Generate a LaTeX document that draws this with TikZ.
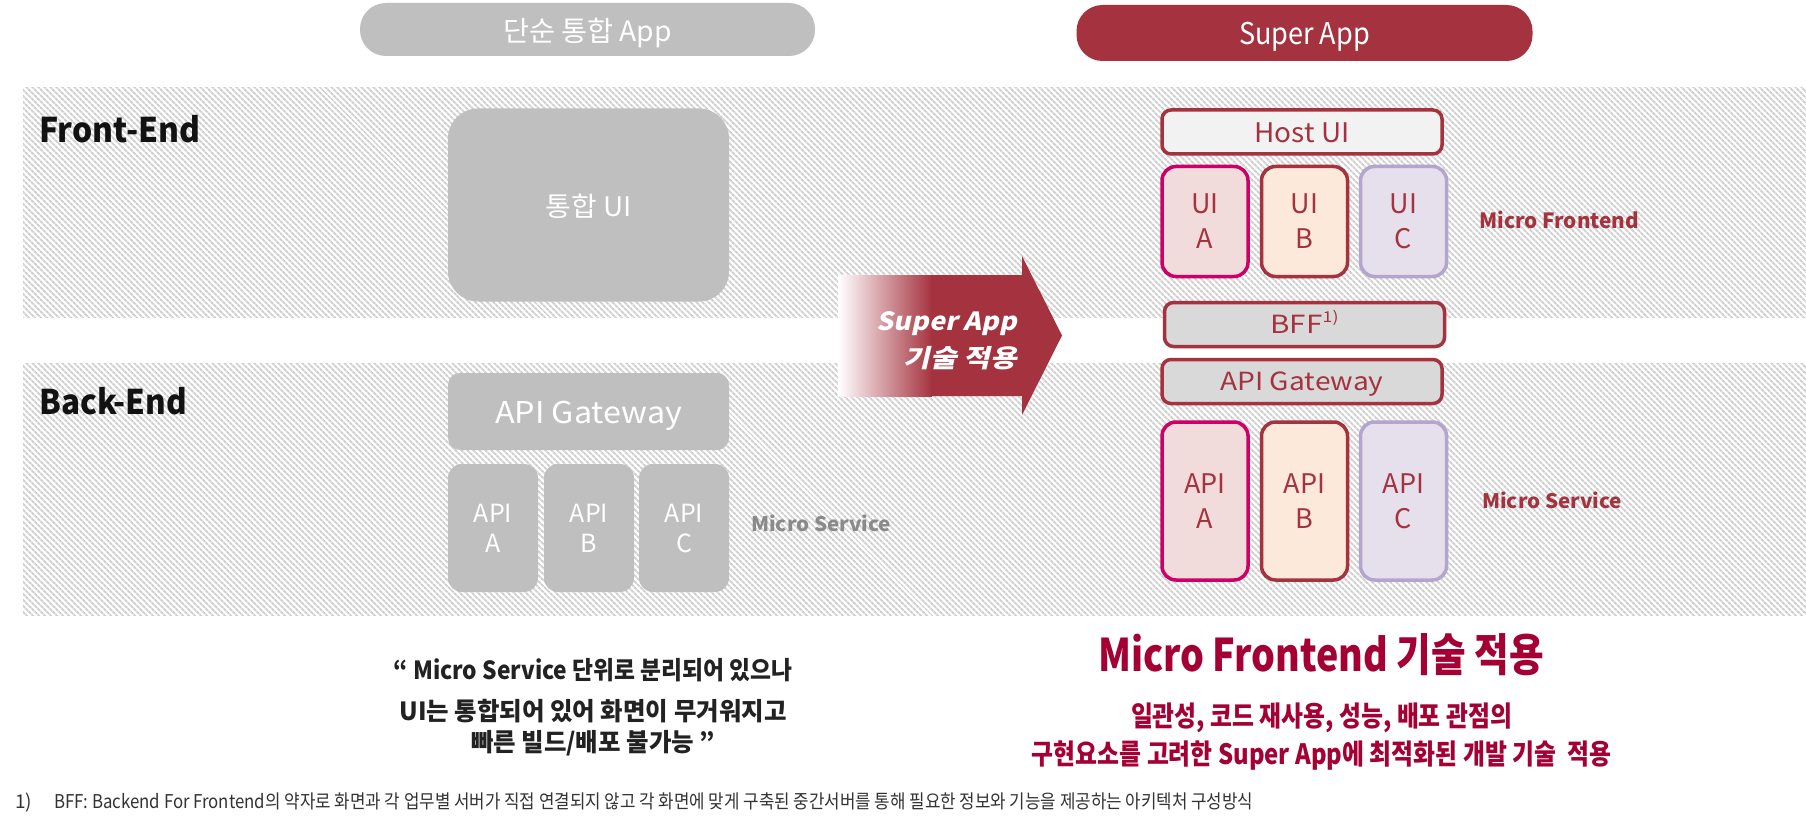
\documentclass[tikz,border=0pt]{standalone}
\usepackage{fontspec}
\setmainfont{Noto Sans CJK KR}
\newfontfamily\slfont[FakeSlant=0.2]{Noto Sans CJK KR}
\usetikzlibrary{patterns.meta}
\definecolor{sred}{HTML}{A5333F}
\definecolor{dred}{HTML}{A50034}
\definecolor{magb}{HTML}{CC0066}
\definecolor{lavb}{HTML}{B4A5CF}
\definecolor{fillA}{HTML}{F2DCDB}
\definecolor{fillB}{HTML}{FDE9D9}
\definecolor{fillC}{HTML}{E6E0EC}
\definecolor{boxgrey}{HTML}{BFBFBF}
\definecolor{lgrey}{HTML}{D9D9D9}
\definecolor{hostfill}{HTML}{F2F2F2}
\definecolor{hatch}{HTML}{CFCFCF}
\definecolor{msgrey}{HTML}{8A8A8A}
\definecolor{qtext}{HTML}{222222}
\definecolor{ftext}{HTML}{333333}
\newcommand\fitw[2]{\resizebox{#1}{\height}{#2}}
\newcommand\fs[2]{\fontsize{#1}{#2}\selectfont}
\begin{document}
\begin{tikzpicture}[x=1pt,y=-1pt,
  band/.style={pattern={Lines[angle=-45,distance=4pt,line width=2pt]},pattern color=hatch},
  greybox/.style={fill=boxgrey,inner sep=0pt,text=white},
  pill/.style={rounded corners=26pt,inner sep=0pt,text=white},
  rbox/.style={line width=3.5pt,inner sep=0pt,text=sred},
  lbl/.style={inner sep=0pt,anchor=base west},
  ctxt/.style={inner sep=0pt,anchor=base}]
\useasboundingbox (0,0) rectangle (1806,821);
\fill[white] (0,0) rectangle (1806,821);
% hatched bands
\fill[band] (23,88) rectangle (1806,317);
\fill[band] (23,363) rectangle (1806,615);
% pills
\node[pill,fill=boxgrey,minimum width=455pt,minimum height=53pt,text height=25pt,text depth=0pt,font=\fs{28}{30}] (pl) at (587.5,29.5) {\fitw{169pt}{단순 통합 App}};
\node[pill,fill=sred,minimum width=456pt,minimum height=56pt,text height=24pt,text depth=0pt,font=\fs{30}{32}] (pr) at (1304.5,33) {\fitw{131pt}{Super App}};
% row labels
\node[lbl,font=\bfseries\fs{34}{36},text=black!93] (fe) at (39,143) {\fitw{161pt}{Front-End}};
\node[lbl,font=\bfseries\fs{34}{36},text=black!93] (be) at (39,414) {\fitw{148pt}{Back-End}};
% left column
\node[greybox,rounded corners=30pt,minimum width=281pt,minimum height=193pt,text height=22pt,text depth=0pt,font=\fs{27}{30}] (tui) at (588.5,205) {\fitw{86pt}{통합 UI}};
\node[greybox,rounded corners=12pt,minimum width=281pt,minimum height=77pt,text height=23pt,text depth=0pt,font=\fs{30}{32}] (lgw) at (588.5,411.5) {\fitw{187pt}{API Gateway}};
\node[greybox,rounded corners=14pt,minimum width=90pt,minimum height=128pt,align=center,font=\fs{25}{30}] (la) at (493,528) {API\\A};
\node[greybox,rounded corners=14pt,minimum width=90pt,minimum height=128pt,align=center,font=\fs{25}{30}] (lb) at (589,528) {API\\B};
\node[greybox,rounded corners=14pt,minimum width=90pt,minimum height=128pt,align=center,font=\fs{25}{30}] (lc) at (684,528) {API\\C};
\node[lbl,font=\bfseries\fs{20}{22},text=msgrey] (lms) at (751,531) {\fitw{140pt}{Micro Service}};
% arrow
\shade[left color=white,right color=sred] (838,275) rectangle (932,396);
\fill[sred] (931,275) -- (1022,275) -- (1022,256) -- (1062,335.5) -- (1022,415) -- (1022,396) -- (931,396) -- cycle;
\node[inner sep=0pt,anchor=base east,text=white,font=\slfont\bfseries\fs{25}{27}] (at1) at (1017,330) {\fitw{140pt}{Super App}};
\node[inner sep=0pt,anchor=base east,text=white,font=\slfont\bfseries\fs{25}{27}] (at2) at (1017,367) {\fitw{113pt}{기술 적용}};
% right column
\node[rbox,draw=sred,fill=hostfill,rounded corners=9pt,minimum width=280pt,minimum height=44pt,text height=22pt,text depth=0pt,font=\fs{27}{30}] (host) at (1302,132) {\fitw{95pt}{Host UI}};
\node[rbox,draw=magb,fill=fillA,rounded corners=14pt,minimum width=86pt,minimum height=110pt,align=center,font=\fs{27}{35}] (uia) at (1205,221.5) {UI\\A};
\node[rbox,draw=sred,fill=fillB,rounded corners=14pt,minimum width=86pt,minimum height=110pt,align=center,font=\fs{27}{35}] (uib) at (1304.5,221.5) {UI\\B};
\node[rbox,draw=lavb,fill=fillC,rounded corners=14pt,minimum width=86pt,minimum height=110pt,align=center,font=\fs{27}{35}] (uic) at (1403.5,221.5) {UI\\C};
\node[lbl,font=\bfseries\fs{21}{23},text=sred] (mfe) at (1479,229) {\fitw{160pt}{Micro Frontend}};
\node[rbox,draw=sred,fill=lgrey,rounded corners=9pt,minimum width=280pt,minimum height=44pt,text height=17pt,text depth=0pt,font=\fs{25}{28}] (bff) at (1304.5,324.5) {\fitw{68pt}{BFF\raisebox{0.42em}{\fs{15}{15}1)}}};
\node[rbox,draw=sred,fill=lgrey,rounded corners=9pt,minimum width=280pt,minimum height=44pt,text height=17pt,text depth=0pt,font=\fs{25}{28}] (rgw) at (1302,381.5) {\fitw{163pt}{API Gateway}};
\node[rbox,draw=magb,fill=fillA,rounded corners=14pt,minimum width=86pt,minimum height=158pt,align=center,font=\fs{27}{35}] (ra) at (1205,501) {API\\A};
\node[rbox,draw=sred,fill=fillB,rounded corners=14pt,minimum width=86pt,minimum height=158pt,align=center,font=\fs{27}{35}] (rb) at (1304.5,501) {API\\B};
\node[rbox,draw=lavb,fill=fillC,rounded corners=14pt,minimum width=86pt,minimum height=158pt,align=center,font=\fs{27}{35}] (rc) at (1403.5,501) {API\\C};
\node[lbl,font=\bfseries\fs{20}{22},text=sred] (rms) at (1482,508) {\fitw{140pt}{Micro Service}};
% quote
\node[ctxt,font=\bfseries\fs{25}{27},text=qtext] (q1) at (593,679) {\fitw{399pt}{“ Micro Service 단위로 분리되어 있으나}};
\node[ctxt,font=\bfseries\fs{25}{27},text=qtext] (q2) at (593,720) {\fitw{387pt}{UI는 통합되어 있어 화면이 무거워지고}};
\node[ctxt,font=\bfseries\fs{25}{27},text=qtext] (q3) at (593,751) {\fitw{244pt}{빠른 빌드/배포 불가능 ”}};
% conclusion
\node[ctxt,font=\bfseries\fs{45}{48},text=dred] (big) at (1321,671) {\fitw{446pt}{Micro Frontend 기술 적용}};
\node[ctxt,font=\bfseries\fs{28}{30},text=dred] (s1) at (1321.5,726) {\fitw{381pt}{일관성, 코드 재사용, 성능, 배포 관점의}};
\node[ctxt,font=\bfseries\fs{28}{30},text=dred] (s2) at (1321.5,764) {\fitw{579pt}{구현요소를 고려한 Super App에 최적화된 개발 기술~ 적용}};
% footnote
\node[lbl,font=\fs{19}{21},text=ftext] (fn1) at (15,808) {1)};
\node[lbl,font=\fs{19}{21},text=ftext] (fn2) at (54,808) {\fitw{1199pt}{BFF: Backend For Frontend의 약자로 화면과 각 업무별 서버가 직접 연결되지 않고 각 화면에 맞게 구축된 중간서버를 통해 필요한 정보와 기능을 제공하는 아키텍처 구성방식}};
\end{tikzpicture}
\end{document}
